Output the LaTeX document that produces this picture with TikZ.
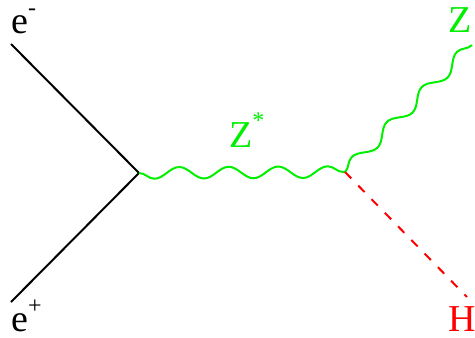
\documentclass[tikz,border=0pt]{standalone}
\usepackage{fontspec}
\setmainfont{Liberation Serif}
\usepackage{tikz}
\usetikzlibrary{positioning,decorations.pathmorphing}
\definecolor{zgreen}{RGB}{0,240,0}
\tikzset{
fermion/.style={draw=black,line width=2pt},
boson/.style={draw=zgreen,line width=2pt,decorate,
  decoration={snake,segment length=49.5pt,amplitude=5.8pt}},
higgs/.style={draw=red,line width=2pt,dash pattern=on 9pt off 10pt},
lbl/.style={inner sep=0pt,anchor=base west,font=\fontsize{38}{40}\selectfont},
}
\newcommand{\upidx}[2]{\raisebox{#1}{\fontsize{24}{24}\selectfont #2}}
\begin{document}
\begin{tikzpicture}[x=1pt,y=-1pt]
\useasboundingbox (0,0) rectangle (475,338);
\coordinate (em) at (11,44);
\coordinate (ep) at (11,302);
\coordinate (v1) at (139,173);
\coordinate (v2) at (345,172);
\coordinate (zo) at (472,45);
\coordinate (ho) at (467,297);

\node[lbl] (lem) at (11,33) {e\upidx{0.47em}{-}};
\node[lbl] (lep) at (11,331) {e\upidx{0.46em}{+}};
\node[lbl,zgreen] (lzs) at (229,147) {Z\upidx{0.5em}{*}};
\node[lbl,zgreen] (lz) at (448,32) {Z};
\node[lbl,red] (lh) at (448,331) {H};

\path
(em) edge[fermion] (v1)
(ep) edge[fermion] (v1)
(v1) edge[boson,decoration={mirror}] (v2)
(v2) edge[boson] (zo)
(v2) edge[higgs] (ho)
;
\end{tikzpicture}
\end{document}
